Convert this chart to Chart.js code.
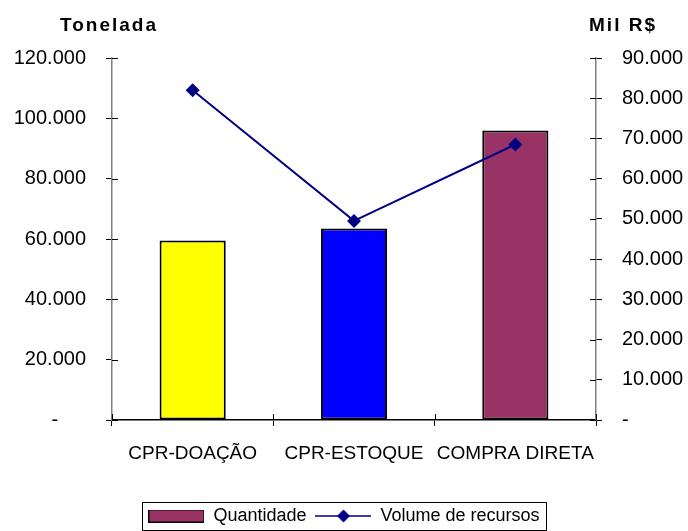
<!DOCTYPE html>
<html>
<head>
<meta charset="utf-8">
<script src="https://cdn.jsdelivr.net/npm/chart.js@4.4.0/dist/chart.umd.min.js"></script>
<style>
  html, body { margin: 0; padding: 0; background: #fff; }
</style>
</head>
<body>
<canvas id="chart" width="688" height="531"></canvas>
<script>
const categories = ['CPR-DOAÇÃO', 'CPR-ESTOQUE', 'COMPRA DIRETA'];
const quantidade = [59500, 63500, 96000];
const volumeRecursos = [82000, 49500, 68500];
const barColors = ['#ffff00', '#0000ff', '#993366'];
const leftTickLabels = ['-     ', '20.000', '40.000', '60.000', '80.000', '100.000', '120.000'];
const rightTickLabels = ['-', '10.000', '20.000', '30.000', '40.000', '50.000', '60.000', '70.000', '80.000', '90.000'];

const FONT = "'Liberation Sans', Arial, sans-serif";

// legend swatches
function makeSwatch() {
    const c = document.createElement('canvas');
    c.width = 56; c.height = 13;
    const g = c.getContext('2d');
    g.fillStyle = '#993366';
    g.fillRect(0.5, 0.5, 55, 12);
    g.strokeStyle = '#000';
    g.lineWidth = 1;
    g.strokeRect(0.5, 0.5, 55, 12);
    return c;
}
function makeLineSwatch() {
    const c = document.createElement('canvas');
    c.width = 56; c.height = 14;
    const g = c.getContext('2d');
    g.strokeStyle = '#000080';
    g.lineWidth = 1.5;
    g.beginPath(); g.moveTo(0, 7); g.lineTo(56, 7); g.stroke();
    g.fillStyle = '#000080';
    g.beginPath();
    g.moveTo(28, 0.5); g.lineTo(34.5, 7); g.lineTo(28, 13.5); g.lineTo(21.5, 7);
    g.closePath(); g.fill();
    return c;
}
const barSwatch = makeSwatch();
const lineSwatch = makeLineSwatch();

const extras = {
    id: 'extras',
    afterDraw(chart) {
        const ctx = chart.ctx;
        const y = chart.scales.y, y1 = chart.scales.y1, x = chart.scales.x;
        ctx.save();
        ctx.strokeStyle = '#000';
        ctx.lineWidth = 1;
        // inner halves of the tick marks
        y.ticks.forEach((t, i) => {
            const py = Math.round(y.getPixelForTick(i)) + 0.5;
            ctx.beginPath(); ctx.moveTo(y.right, py); ctx.lineTo(y.right + 6, py); ctx.stroke();
        });
        y1.ticks.forEach((t, i) => {
            const py = Math.round(y1.getPixelForTick(i)) + 0.5;
            ctx.beginPath(); ctx.moveTo(y1.left - 6, py); ctx.lineTo(y1.left, py); ctx.stroke();
        });
        const n = categories.length;
        for (let i = 0; i <= n; i++) {
            const px = Math.round(x.left + i * x.width / n) + 0.5;
            ctx.beginPath(); ctx.moveTo(px, x.top - 6); ctx.lineTo(px, x.top); ctx.stroke();
        }

        // axis titles
        ctx.fillStyle = '#000';
        ctx.font = 'bold 19px ' + FONT;
        ctx.textBaseline = 'middle';
        ctx.textAlign = 'center';
        if ('letterSpacing' in ctx) ctx.letterSpacing = '2px';
        ctx.fillText('Tonelada', 109, 26);
        ctx.fillText('Mil R$', 623, 26);
        if ('letterSpacing' in ctx) ctx.letterSpacing = '0px';

        // legend frame
        const hb = chart.legend.legendHitBoxes;
        if (hb && hb.length) {
            const l = Math.min(...hb.map(h => h.left)) - 6;
            const r = Math.max(...hb.map(h => h.left + h.width)) + 7;
            const cy = hb[0].top + hb[0].height / 2;
            ctx.strokeStyle = '#000';
            ctx.lineWidth = 1;
            ctx.strokeRect(Math.round(l) + 0.5, Math.round(cy - 14) + 0.5, Math.round(r - l), 28);
        }
        ctx.restore();
    }
};

new Chart(document.getElementById('chart'), {
    data: {
        labels: categories,
        datasets: [
            {
                type: 'line',
                label: 'Volume de recursos',
                data: volumeRecursos,
                yAxisID: 'y1',
                borderColor: '#000080',
                backgroundColor: '#000080',
                borderWidth: 2,
                pointStyle: 'rectRot',
                pointRadius: 7,
                pointBorderWidth: 0,
                tension: 0,
                order: 0
            },
            {
                type: 'bar',
                label: 'Quantidade',
                data: quantidade,
                yAxisID: 'y',
                backgroundColor: barColors,
                borderColor: '#000',
                borderWidth: 2,
                borderSkipped: false,
                categoryPercentage: 1,
                barPercentage: 0.41,
                order: 1
            }
        ]
    },
    options: {
        responsive: false,
        animation: false,
        layout: { padding: { top: 58, left: 0, right: 0, bottom: -4 } },
        plugins: {
            tooltip: { enabled: false },
            legend: {
                position: 'bottom',
                labels: {
                    usePointStyle: true,
                    pointStyleWidth: 56,
                    padding: 9,
                    color: '#000',
                    font: { family: FONT, size: 18 },
                    generateLabels() {
                        return [
                            { text: 'Quantidade', pointStyle: barSwatch, fillStyle: '#993366', strokeStyle: '#000', lineWidth: 0, datasetIndex: 1 },
                            { text: 'Volume de recursos', pointStyle: lineSwatch, fillStyle: '#000080', strokeStyle: '#000080', lineWidth: 0, datasetIndex: 0 }
                        ];
                    }
                }
            }
        },
        scales: {
            x: {
                grid: { offset: true, drawOnChartArea: false, tickLength: 6, color: '#000' },
                border: { color: '#000', width: 1.5 },
                ticks: { color: '#000', padding: 16, maxRotation: 0, autoSkip: false, font: { family: FONT, size: 19 } },
                afterFit(scale) {
                    scale.height = scale.chart.height + 4 - 420 - scale.chart.legend.height;
                }
            },
            y: {
                position: 'left',
                min: 0, max: 120000,
                ticks: {
                    stepSize: 20000,
                    color: '#000',
                    padding: 20,
                    font: { family: FONT, size: 20 },
                    callback: (v, i) => leftTickLabels[i]
                },
                grid: { drawOnChartArea: false, tickLength: 6, color: '#000' },
                border: { color: '#808080', width: 1.5 },
                afterFit(scale) { scale.width = 112; }
            },
            y1: {
                position: 'right',
                min: 0, max: 90000,
                ticks: {
                    stepSize: 10000,
                    color: '#000',
                    padding: 20,
                    font: { family: FONT, size: 20 },
                    callback: (v, i) => rightTickLabels[i]
                },
                grid: { drawOnChartArea: false, tickLength: 6, color: '#000' },
                border: { color: '#808080', width: 1.5 },
                afterFit(scale) { scale.width = 92; }
            }
        }
    },
    plugins: [extras]
});
</script>
</body>
</html>
